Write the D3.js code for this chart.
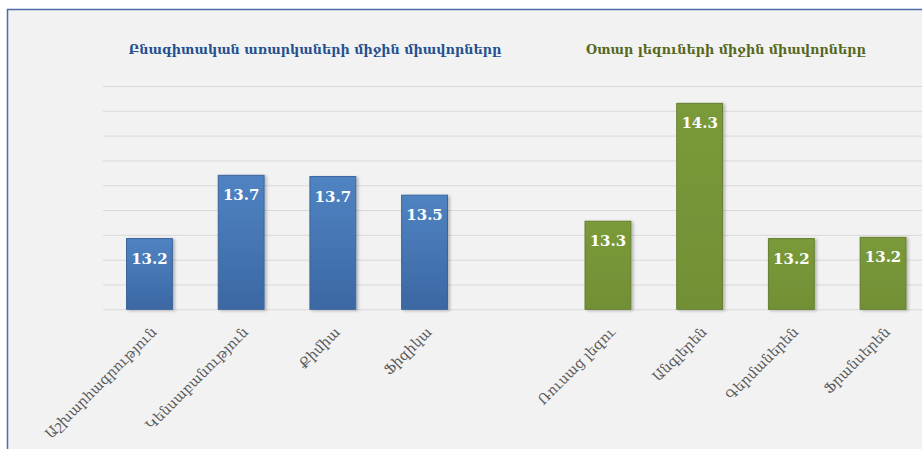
<!DOCTYPE html>
<html>
<head>
<meta charset="utf-8">
<script src="https://cdn.jsdelivr.net/npm/d3@7/dist/d3.min.js"></script>
<style>
  html, body { margin: 0; padding: 0; background: #fff; }
  svg { display: block; }
</style>
</head>
<body>
<div id="chart"></div>
<script>
// Data
var sciences = ["Աշխարհագրություն", "Կենսաբանություն", "Քիմիա", "Ֆիզիկա"];
var scienceValues = [13.17, 13.68, 13.67, 13.52];
var languages = ["Ռուսաց լեզու", "Անգլերեն", "Գերմաներեն", "Ֆրանսերեն"];
var languageValues = [13.31, 14.26, 13.17, 13.18];
var titles = ["Բնագիտական առարկաների միջին միավորները", "Օտար լեզուների միջին միավորները"];
var yTicks = [12.6, 12.8, 13.0, 13.2, 13.4, 13.6, 13.8, 14.0, 14.2, 14.4];

var width = 922, height = 449;
var font = "'DejaVu Serif', serif";
var GAP = "__gap__";

var rows = sciences.map(function (c, i) { return { name: c, value: scienceValues[i], group: 0 }; })
  .concat(languages.map(function (c, i) { return { name: c, value: languageValues[i], group: 1 }; }));

var palette = [
  { top: "#5083c2", bottom: "#3b68a3", stroke: "#3a659d", title: "#24508f" },
  { top: "#7a9a3a", bottom: "#728f35", stroke: "#657f2e", title: "#55681c" }
];

var svg = d3.select("#chart").append("svg")
  .attr("width", width).attr("height", height);

var defs = svg.append("defs");
palette.forEach(function (p, i) {
  var gr = defs.append("linearGradient").attr("id", "grad" + i)
    .attr("x1", 0).attr("y1", 0).attr("x2", 0).attr("y2", 1);
  gr.append("stop").attr("offset", "0%").attr("stop-color", p.top);
  gr.append("stop").attr("offset", "100%").attr("stop-color", p.bottom);
});
var sh = defs.append("filter").attr("id", "shadow")
  .attr("x", "-20%").attr("y", "-10%").attr("width", "150%").attr("height", "130%");
sh.append("feDropShadow").attr("dx", 2).attr("dy", 1).attr("stdDeviation", 1.5)
  .attr("flood-color", "#000").attr("flood-opacity", 0.25);

// Background + frame
svg.append("rect").attr("x", 0).attr("y", 0).attr("width", width).attr("height", height).attr("fill", "#fff");
svg.append("rect").attr("x", 7.5).attr("y", 9.5).attr("width", width + 10).attr("height", height + 10)
  .attr("fill", "#f2f2f2").attr("stroke", "#4a6ea6").attr("stroke-width", 1.5);

// Scales
var x = d3.scaleBand()
  .domain(sciences.concat([GAP]).concat(languages))
  .range([103.6, 103.6 + 9 * 91.7])
  .paddingInner(0.5).paddingOuter(0.25);

var y = d3.scaleLinear()
  .domain([yTicks[0], yTicks[yTicks.length - 1]])
  .range([309.3, 86]);

// Grid lines
var grid = d3.axisLeft(y).tickValues(yTicks).tickSize(-(width - 103)).tickFormat("");
svg.append("g")
  .attr("transform", "translate(103,0)")
  .call(grid)
  .call(function (g) { g.select(".domain").remove(); })
  .call(function (g) { g.selectAll(".tick line").attr("stroke", "#d9d9d9").attr("stroke-width", 1); });

// Bars
svg.selectAll(".bar")
  .data(rows).join("rect")
    .attr("class", "bar")
    .attr("x", function (d) { return x(d.name); })
    .attr("width", x.bandwidth())
    .attr("y", function (d) { return y(d.value); })
    .attr("height", function (d) { return y(yTicks[0]) - y(d.value); })
    .attr("fill", function (d) { return "url(#grad" + d.group + ")"; })
    .attr("stroke", function (d) { return palette[d.group].stroke; })
    .attr("stroke-width", 1)
    .attr("filter", "url(#shadow)");

// Value labels
svg.selectAll(".val")
  .data(rows).join("text")
    .attr("class", "val")
    .attr("x", function (d) { return x(d.name) + x.bandwidth() / 2; })
    .attr("y", function (d) { return y(d.value) + 25; })
    .attr("text-anchor", "middle")
    .attr("font-family", font).attr("font-size", 15).attr("font-weight", "bold")
    .attr("fill", "#fff")
    .text(function (d) { return d.value.toFixed(1); });

// Category labels
svg.selectAll(".cat")
  .data(rows).join("text")
    .attr("class", "cat")
    .attr("transform", function (d) {
      return "translate(" + (x(d.name) + x.bandwidth() / 2 + 8) + ",333) rotate(-45)";
    })
    .attr("text-anchor", "end")
    .attr("font-family", font).attr("font-size", 14)
    .attr("fill", "#595959")
    .text(function (d) { return d.name; });

// Group titles
var titleX = [315, 726];
svg.selectAll(".title")
  .data(titles).join("text")
    .attr("class", "title")
    .attr("x", function (d, i) { return titleX[i]; })
    .attr("y", 54)
    .attr("text-anchor", "middle")
    .attr("font-family", font).attr("font-size", 12.8).attr("font-weight", "bold")
    .attr("fill", function (d, i) { return palette[i].title; })
    .text(function (d) { return d; });
</script>
</body>
</html>
